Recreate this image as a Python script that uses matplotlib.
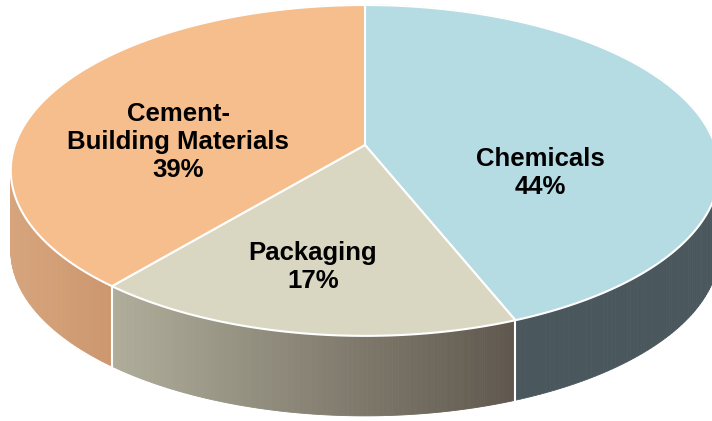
import numpy as np
import matplotlib.pyplot as plt

# slice data (clockwise from 12 o'clock)
labels = ["Chemicals", "Packaging", "Cement-\nBuilding Materials"]
values = [44, 17, 39]
top_colors = ["#B5DBE3", "#D9D7C2", "#F6BD8D"]
side_left = [(74, 88, 94), (175, 173, 154), (214, 165, 125)]
side_right = [(74, 88, 94), (95, 87, 77), (204, 150, 110)]
side_xrange = [(515, 712), (115, 515), (12, 115)]
label_pos = [(540, 173), (313, 267), (178, 142)]

# projection of the tilted pie (pixel coords)
CX, CY = 365, 145
A, B, D = 350, 161.5, 6.5
DEPTH = 80


def proj(theta):
    u = np.sin(theta)
    v = np.cos(theta)
    s = D / (D + v)
    return CX + A * u * s, CY - B * v * s


fig = plt.figure(figsize=(7.12, 4.21), dpi=100)
ax = fig.add_axes([0, 0, 1, 1])
ax.set_xlim(0, 712)
ax.set_ylim(421, 0)
ax.axis('off')

total = float(sum(values))
bounds = np.concatenate([[0], np.cumsum(values) / total * 2 * np.pi])

# side strips, back to front
strips = []
for i in range(len(values)):
    th = np.linspace(bounds[i], bounds[i + 1], 200)
    x, y = proj(th)
    x0, x1 = side_xrange[i]
    for j in range(len(th) - 1):
        xm = 0.5 * (x[j] + x[j + 1])
        t = np.clip((xm - x0) / (x1 - x0), 0, 1)
        c = np.array(side_left[i]) * (1 - t) + np.array(side_right[i]) * t
        c = c / 255.0
        quad = [(x[j], y[j]), (x[j + 1], y[j + 1]),
                (x[j + 1], y[j + 1] + DEPTH), (x[j], y[j] + DEPTH)]
        strips.append((np.cos(th[j]), quad, c))
strips.sort(key=lambda s: -s[0])
for _, quad, c in strips:
    ax.add_patch(plt.Polygon(quad, closed=True, facecolor=c, edgecolor=c,
                             linewidth=0.6))

# white seams on the side at slice boundaries (front only)
for b in bounds[1:-1]:
    if np.cos(b) < 0:
        bx, by = proj(b)
        ax.plot([bx, bx], [by, by + DEPTH], color='white', lw=1.5)

# top faces
for i in range(len(values)):
    th = np.linspace(bounds[i], bounds[i + 1], 300)
    x, y = proj(th)
    pts = [(CX, CY)] + list(zip(x, y))
    ax.add_patch(plt.Polygon(pts, closed=True, facecolor=top_colors[i],
                             edgecolor='white', linewidth=1.5,
                             joinstyle='round'))

# labels
for i in range(len(values)):
    ax.text(label_pos[i][0], label_pos[i][1],
            "%s\n%d%%" % (labels[i], values[i]),
            ha='center', va='center', multialignment='center',
            fontsize=18.5, fontweight='bold', family='Liberation Sans',
            linespacing=1.2)

plt.savefig("out.png", dpi=100)
